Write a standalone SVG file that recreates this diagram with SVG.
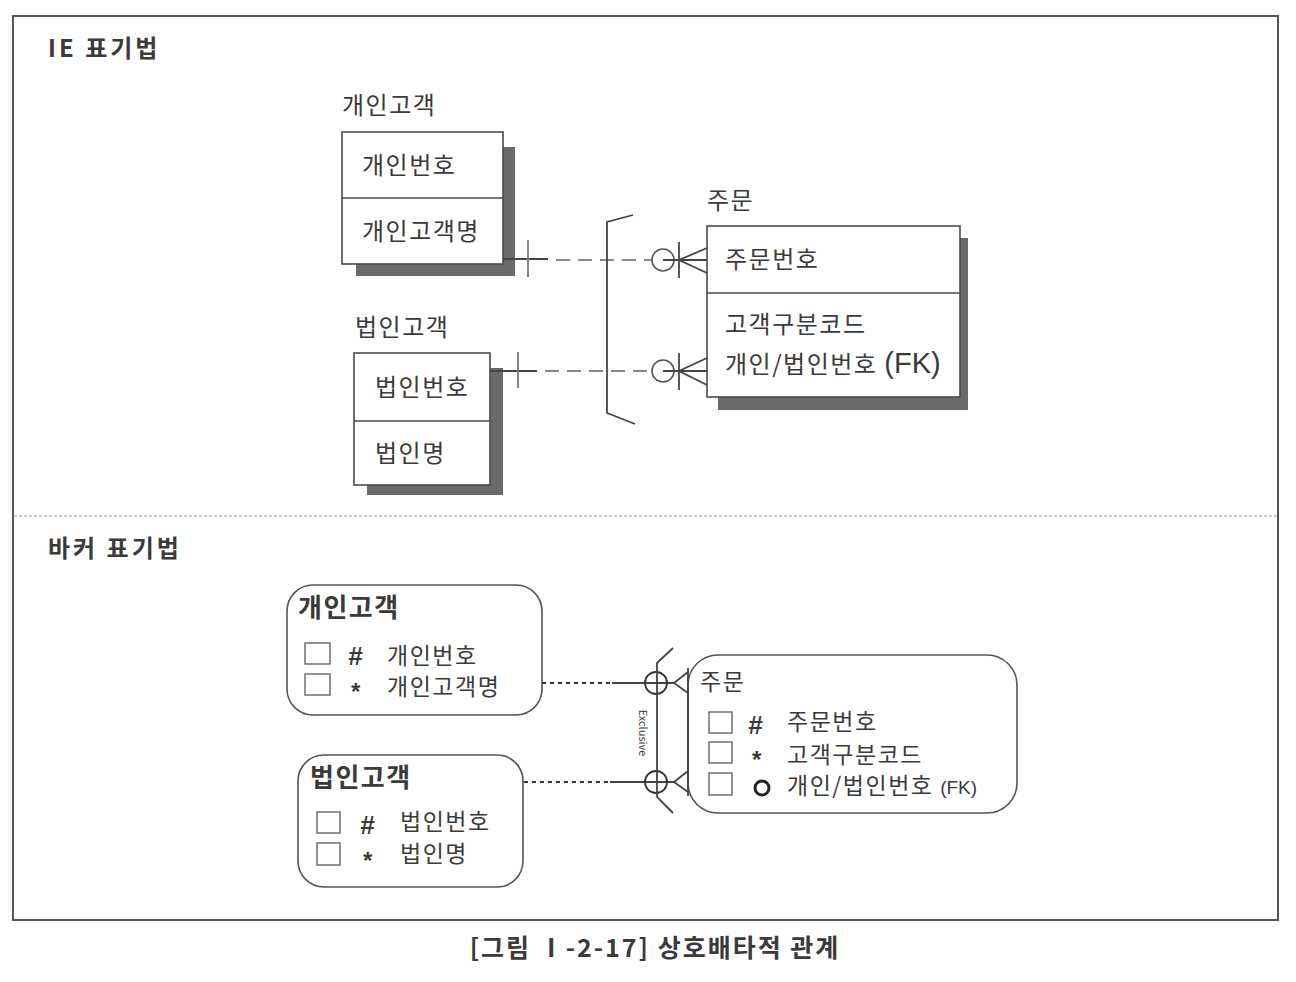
<svg xmlns="http://www.w3.org/2000/svg" width="1296" height="982" viewBox="0 0 1296 982">
<style>
text{font-family:"Noto Sans CJK KR","Noto Sans",sans-serif;fill:#3a3a3a}
.h{font-size:24px;font-weight:bold;letter-spacing:3px}
.t{font-size:24px;letter-spacing:1.5px}
.bt{font-size:26px;font-weight:bold;letter-spacing:1.5px}
.ba{font-size:23px;letter-spacing:1.5px}
.sym{font-family:"Liberation Sans",sans-serif;font-weight:bold;letter-spacing:0}
.box{fill:#fff;stroke:#4a4a4a;stroke-width:1.6}
.sh{fill:#6a6a6a}
.div{stroke:#4a4a4a;stroke-width:1.6}
.rb{fill:#fff;stroke:#555;stroke-width:1.6}
.cb{fill:#fff;stroke:#666;stroke-width:1.4}
.ln{stroke:#444;stroke-width:1.8;fill:none}
.dash{stroke:#888;stroke-width:2;stroke-dasharray:14 8;fill:none}
.dot{stroke:#333;stroke-width:2;stroke-dasharray:4 4;fill:none}
.tk{stroke:#777;stroke-width:1.8;fill:none}
</style>
<rect x="0" y="0" width="1296" height="982" fill="#fff"/>
<rect x="13" y="16" width="1265" height="904" fill="none" stroke="#555" stroke-width="2"/>
<line x1="14" y1="516" x2="1277" y2="516" stroke="#999" stroke-width="1.2" stroke-dasharray="3 2"/>
<text class="h" x="48" y="57">IE 표기법</text>
<text class="h" x="48" y="557">바커 표기법</text>

<g id="ie-personal">
<text class="t" x="342" y="114">개인고객</text>
<rect class="sh" x="356" y="147" width="159" height="129"/>
<rect class="box" x="342" y="132" width="161" height="132"/>
<line class="div" x1="342" y1="198" x2="503" y2="198"/>
<text class="t" x="362" y="174">개인번호</text>
<text class="t" x="362" y="240">개인고객명</text>
</g>

<g id="ie-corporate">
<text class="t" x="355" y="336">법인고객</text>
<rect class="sh" x="367" y="368" width="136" height="127"/>
<rect class="box" x="354" y="353" width="136" height="132"/>
<line class="div" x1="354" y1="421" x2="490" y2="421"/>
<text class="t" x="375" y="396">법인번호</text>
<text class="t" x="375" y="462">법인명</text>
</g>

<g id="ie-order">
<text class="t" x="707" y="209">주문</text>
<rect class="sh" x="718" y="238" width="250" height="172"/>
<rect class="box" x="707" y="226" width="253" height="171"/>
<line class="div" x1="707" y1="293" x2="960" y2="293"/>
<text class="t" x="725" y="268">주문번호</text>
<text class="t" x="725" y="333">고객구분코드</text>
<text class="t" x="725" y="373">개인/법인번호 <tspan font-size="29px" letter-spacing="0" font-family="Liberation Sans, sans-serif">(FK)</tspan></text>
</g>

<g id="barker-personal">
<rect class="rb" x="287" y="585" width="255" height="130" rx="26"/>
<text class="bt" x="298" y="617">개인고객</text>
<rect class="cb" x="305" y="643" width="25" height="21"/>
<rect class="cb" x="305" y="674" width="25" height="21"/>
<text class="sym" x="348" y="665" font-size="26px" font-style="italic">#</text>
<text class="sym" x="351" y="700" font-size="24px">*</text>
<text class="ba" x="387" y="664">개인번호</text>
<text class="ba" x="387" y="695">개인고객명</text>
</g>

<g id="barker-corporate">
<rect class="rb" x="298" y="755" width="225" height="132" rx="26"/>
<text class="bt" x="310" y="787">법인고객</text>
<rect class="cb" x="317" y="812" width="23" height="21"/>
<rect class="cb" x="317" y="843" width="23" height="22"/>
<text class="sym" x="360" y="834" font-size="26px" font-style="italic">#</text>
<text class="sym" x="363" y="869" font-size="24px">*</text>
<text class="ba" x="400" y="830">법인번호</text>
<text class="ba" x="400" y="862">법인명</text>
</g>

<g id="barker-order">
<rect class="rb" x="688" y="655" width="329" height="158" rx="30"/>
<text class="ba" x="700" y="690" font-size="24px">주문</text>
<rect class="cb" x="709" y="712" width="23" height="21"/>
<rect class="cb" x="709" y="742" width="23" height="21"/>
<rect class="cb" x="709" y="773" width="23" height="22"/>
<text class="sym" x="748" y="734" font-size="26px" font-style="italic">#</text>
<text class="sym" x="752" y="768" font-size="24px">*</text>
<circle cx="762" cy="788" r="7" fill="none" stroke="#222" stroke-width="3"/>
<text class="ba" x="787" y="730" font-size="22px">주문번호</text>
<text class="ba" x="787" y="763" font-size="22px">고객구분코드</text>
<text class="ba" x="787" y="794" font-size="22px">개인/법인번호 <tspan font-size="19px" letter-spacing="0" font-family="Liberation Sans, sans-serif">(FK)</tspan></text>
</g>

<g id="connectors">
<!-- IE relation 1 -->
<line class="ln" x1="503" y1="259" x2="548" y2="259"/>
<line class="tk" x1="528" y1="240" x2="528" y2="277"/>
<line class="dash" x1="556" y1="260" x2="652" y2="260"/>
<circle cx="663" cy="260" r="11" fill="#fff" stroke="#555" stroke-width="1.6"/>
<line class="ln" x1="663" y1="260" x2="707" y2="260"/>
<line class="ln" x1="679" y1="242" x2="679" y2="278"/>
<polyline class="ln" points="707,248 679,260 707,273"/>
<!-- IE relation 2 -->
<line class="ln" x1="490" y1="371" x2="537" y2="371"/>
<line class="tk" x1="518" y1="352" x2="518" y2="388"/>
<line class="dash" x1="545" y1="371" x2="652" y2="371"/>
<circle cx="663" cy="371" r="11" fill="#fff" stroke="#555" stroke-width="1.6"/>
<line class="ln" x1="663" y1="371" x2="707" y2="371"/>
<line class="ln" x1="679" y1="353" x2="679" y2="390"/>
<polyline class="ln" points="707,358 679,371 707,385"/>
<!-- IE exclusive bracket -->
<polyline class="ln" points="633,215 607,222 607,413 635,424"/>

<!-- Barker relation 1 -->
<line class="dot" x1="542" y1="683" x2="612" y2="683"/>
<line class="ln" x1="612" y1="683" x2="674" y2="683"/>
<circle cx="656" cy="683" r="11" fill="none" stroke="#333" stroke-width="1.8"/>
<polyline class="ln" points="688,672 674,683 688,693"/>
<!-- Barker relation 2 -->
<line class="dot" x1="524" y1="782" x2="610" y2="782"/>
<line class="ln" x1="610" y1="782" x2="674" y2="782"/>
<circle cx="656" cy="782" r="11" fill="none" stroke="#333" stroke-width="1.8"/>
<polyline class="ln" points="688,771 674,782 688,792"/>
<line class="ln" x1="688" y1="668" x2="688" y2="796"/>
<!-- exclusive arc -->
<polyline class="ln" points="673,648 657,663 657,797 673,813"/>
<text x="643" y="733" font-family="Liberation Sans, sans-serif" font-size="11px" text-anchor="middle" transform="rotate(90 643 733)" dy="4">Exclusive</text>
</g>

<text x="655" y="957" text-anchor="middle" font-size="25px" font-weight="bold" letter-spacing="2px" fill="#333">[그림  Ⅰ-2-17] 상호배타적 관계</text>
</svg>
